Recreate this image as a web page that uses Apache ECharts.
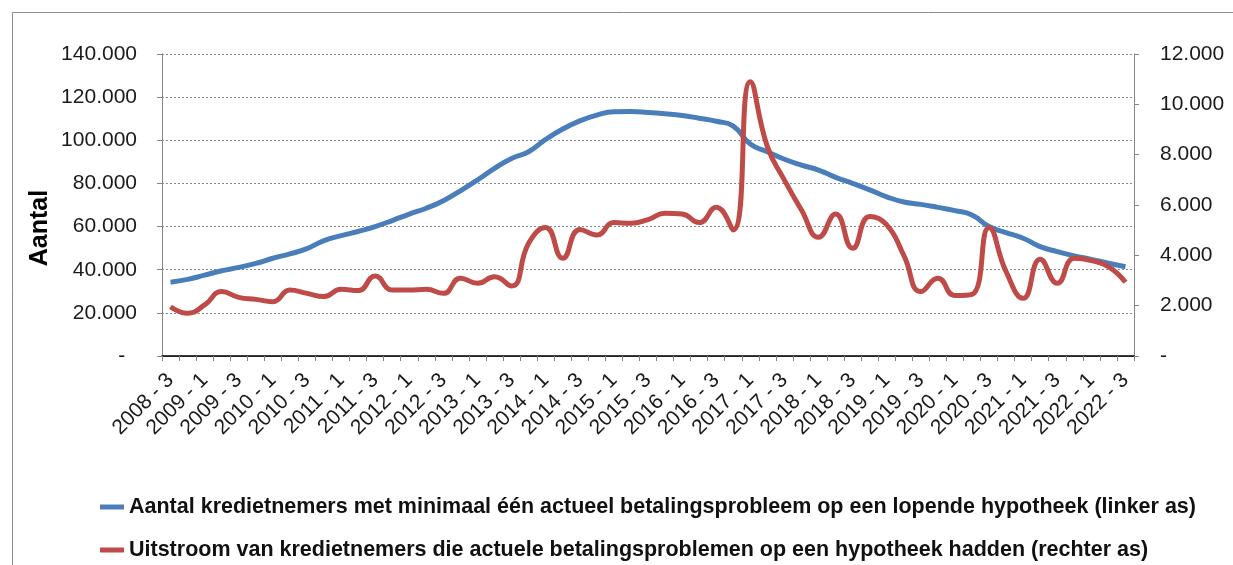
<!DOCTYPE html>
<html>
<head>
<meta charset="utf-8">
<script src="https://cdn.jsdelivr.net/npm/echarts@6/dist/echarts.min.js"></script>
<style>
html,body{margin:0;padding:0;background:#fff;}
#c{width:1233px;height:565px;}
</style>
</head>
<body>
<div id="c"></div>
<script>
var categories = [
"2008 - 3","2008 - 4",
"2009 - 1","2009 - 2","2009 - 3","2009 - 4",
"2010 - 1","2010 - 2","2010 - 3","2010 - 4",
"2011 - 1","2011 - 2","2011 - 3","2011 - 4",
"2012 - 1","2012 - 2","2012 - 3","2012 - 4",
"2013 - 1","2013 - 2","2013 - 3","2013 - 4",
"2014 - 1","2014 - 2","2014 - 3","2014 - 4",
"2015 - 1","2015 - 2","2015 - 3","2015 - 4",
"2016 - 1","2016 - 2","2016 - 3","2016 - 4",
"2017 - 1","2017 - 2","2017 - 3","2017 - 4",
"2018 - 1","2018 - 2","2018 - 3","2018 - 4",
"2019 - 1","2019 - 2","2019 - 3","2019 - 4",
"2020 - 1","2020 - 2","2020 - 3","2020 - 4",
"2021 - 1","2021 - 2","2021 - 3","2021 - 4",
"2022 - 1","2022 - 2","2022 - 3"
];
var kredietnemers = [
34200,35500,37500,39500,41100,42900,45300,47300,49800,53500,
55800,57700,60000,62800,65800,68500,72000,76600,81600,87000,
91600,94700,100400,105200,109000,111700,113200,113300,112900,112300,
111500,110200,108800,106600,98300,94700,91200,88500,86200,82800,
80000,77000,73800,71400,70300,68900,67400,65400,60000,57200,
54600,50700,48400,46400,44800,43000,41400
];
var uitstroom = [
1960,1700,2030,2560,2330,2250,2160,2620,2490,2360,
2650,2600,3180,2620,2620,2650,2490,3090,2890,3150,
2780,4480,5110,3880,5030,4810,5300,5270,5420,5670,
5640,5300,5910,5010,10900,8320,6990,5800,4720,5640,
4280,5540,5210,4000,2560,3090,2400,2450,5110,3350,
2290,3840,2890,3880,3790,3550,2930
];
var seriesNames = [
"Aantal kredietnemers met minimaal één actueel betalingsprobleem op een lopende hypotheek (linker as)",
"Uitstroom van kredietnemers die actuele betalingsproblemen op een hypotheek hadden (rechter as)"
];
var yTitle = "Aantal";
var leftTicks = {min:0, max:140000, interval:20000};
var rightTicks = {min:0, max:12000, interval:2000};

function fmt(v){
  if (v === 0) return '-';
  return String(v).replace(/\B(?=(\d{3})+(?!\d))/g, '.');
}

var FONT = '"Liberation Sans", Arial, sans-serif';
var legendText = {fontFamily:FONT, fontSize:21.5, fontWeight:'bold', color:'#111'};
var chart = echarts.init(document.getElementById('c'), null, {renderer:'canvas'});
chart.setOption({
  animation:false,
  backgroundColor:'#fff',
  textStyle:{fontFamily:FONT},
  graphic:[{
    type:'rect', shape:{x:12.5,y:12.5,width:1240,height:570},
    style:{fill:'none',stroke:'#8c8c8c',lineWidth:1}, silent:true
  },{
    type:'text', x:40, y:228, rotation:Math.PI/2, silent:true,
    style:{text:yTitle, fontSize:25, fontWeight:'bold', fill:'#000', fontFamily:FONT,
      textAlign:'center', textVerticalAlign:'middle'}
  }],
  grid:{left:162, right:99, top:54, bottom:209, containLabel:false},
  legend:[{
    orient:'horizontal', left:100, top:496, padding:0,
    itemWidth:24, itemHeight:5, icon:'rect',
    textStyle:legendText, data:[seriesNames[0]]
  },{
    orient:'horizontal', left:100, top:539, padding:0,
    itemWidth:24, itemHeight:5, icon:'rect',
    textStyle:legendText, data:[seriesNames[1]]
  }],
  xAxis:[{
    type:'category', data:categories, boundaryGap:true,
    axisLine:{lineStyle:{color:'#868686',width:1}},
    axisTick:{show:true, interval:0, length:5, lineStyle:{color:'#868686'}},
    axisLabel:{interval:1, rotate:45, fontSize:21, color:'#1a1a1a', margin:21,
      fontFamily:FONT},
    splitLine:{show:false}
  },{
    type:'category', data:categories, position:'top', boundaryGap:true,
    axisLine:{show:true, lineStyle:{color:'#000',width:1.5}},
    axisTick:{show:false}, axisLabel:{show:false}, splitLine:{show:false}
  }],
  yAxis:[{
    type:'value', min:leftTicks.min, max:leftTicks.max, interval:leftTicks.interval,
    position:'left',
    axisLine:{show:true, lineStyle:{color:'#868686'}},
    axisTick:{show:true, length:5, lineStyle:{color:'#868686'}},
    axisLabel:{fontSize:21, color:'#1a1a1a', margin:25, fontFamily:FONT,
      formatter:function(v){ return v===0 ? '-  ' : fmt(v); }},
    splitLine:{show:true, lineStyle:{color:'#8a8a8a', type:[2,2], width:1}}
  },{
    type:'value', min:rightTicks.min, max:rightTicks.max, interval:rightTicks.interval,
    position:'right',
    axisLine:{show:true, lineStyle:{color:'#868686'}},
    axisTick:{show:true, length:5, lineStyle:{color:'#868686'}},
    axisLabel:{fontSize:21, color:'#1a1a1a', margin:26, fontFamily:FONT, formatter:fmt},
    splitLine:{show:false}
  }],
  series:[{
    name:seriesNames[0], type:'line', xAxisIndex:0, yAxisIndex:0,
    data:kredietnemers, smooth:0.5, showSymbol:false, symbol:'none',
    lineStyle:{color:'#4a7ebb', width:5}, itemStyle:{color:'#4a7ebb'}, z:3
  },{
    name:seriesNames[1], type:'line', xAxisIndex:0, yAxisIndex:1,
    data:uitstroom, smooth:0.5, showSymbol:false, symbol:'none',
    lineStyle:{color:'#be4b48', width:5}, itemStyle:{color:'#be4b48'}, z:4
  }]
});
</script>
</body>
</html>
